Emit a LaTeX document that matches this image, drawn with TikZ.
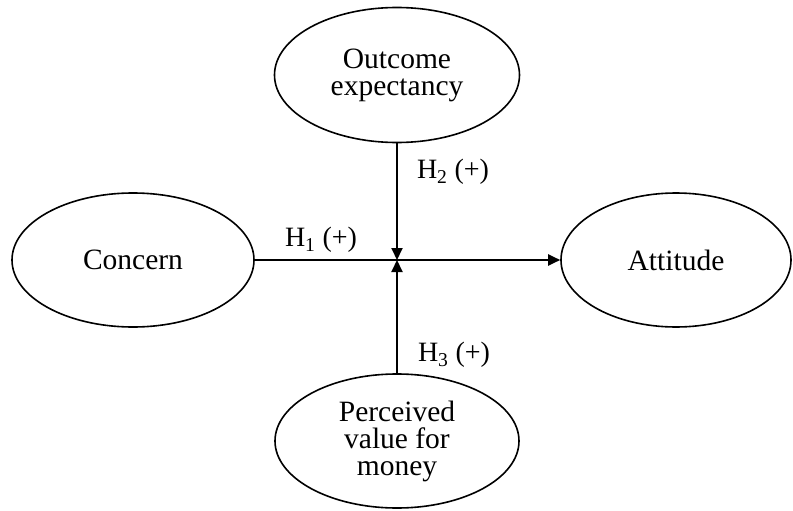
\documentclass[tikz,border=0pt]{standalone}
\usepackage{fontspec}
\setmainfont{Liberation Serif}
\usetikzlibrary{shapes.geometric,arrows.meta}
\begin{document}
\begin{tikzpicture}[x=1pt,y=-1pt,
  lat/.style={ellipse, draw, line width=1.6pt, inner sep=0pt, align=center,
    font=\fontsize{29.5}{27}\selectfont},
  lbl/.style={inner sep=0pt, font=\fontsize{28}{27}\selectfont},
  arr/.style={line width=2pt, -{Triangle[length=12pt,width=11pt]}}]
\useasboundingbox (0,0) rectangle (793,511);
\fill[white] (0,0) rectangle (793,511);
\node[lat, minimum width=245pt, minimum height=135pt] (out) at (397,75) {Outcome\\expectancy};
\node[lat, minimum width=242pt, minimum height=134pt] (con) at (133,260) {Concern};
\node[lat, minimum width=230pt, minimum height=134pt] (att) at (676,260) {Attitude};
\node[lat, minimum width=244pt, minimum height=134pt] (per) at (397,441) {Perceived\\value for\\money};
\coordinate (j) at (397,260);
\draw[arr] (con.east) -- (att.west);
\draw[arr] (out.south) -- (j);
\draw[arr] (per.north) -- (j);
\node[lbl] (h1) at (321,240) {H\textsubscript{1} (+)};
\node[lbl] (h2) at (453,172) {H\textsubscript{2} (+)};
\node[lbl] (h3) at (454,355) {H\textsubscript{3} (+)};
\end{tikzpicture}
\end{document}
